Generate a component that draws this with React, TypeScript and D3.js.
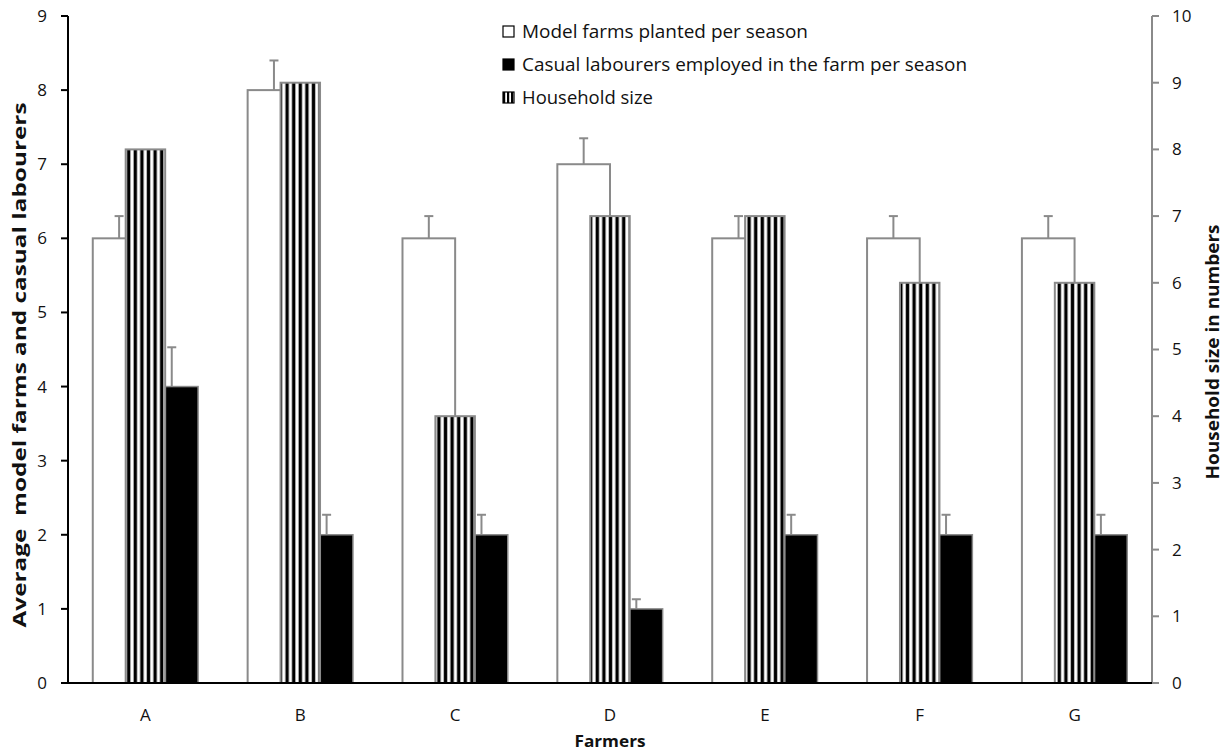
import React from "react";
import * as d3 from "d3";

const categories = ["A", "B", "C", "D", "E", "F", "G"];
const modelFarms = [6, 8, 6, 7, 6, 6, 6];
const modelFarmsErr = [0.3, 0.4, 0.3, 0.35, 0.3, 0.3, 0.3];
const casualLabourers = [4, 2, 2, 1, 2, 2, 2];
const casualLabourersErr = [0.53, 0.27, 0.27, 0.13, 0.27, 0.27, 0.27];
const householdSize = [8, 9, 4, 7, 7, 6, 6];
const leftTicks = [0, 1, 2, 3, 4, 5, 6, 7, 8, 9];
const rightTicks = [0, 1, 2, 3, 4, 5, 6, 7, 8, 9, 10];
const legendLabels = [
  "Model farms planted per season",
  "Casual labourers employed in the farm per season",
  "Household size",
];
const legendWidths = [286, 445, 131];

const W = 1226;
const H = 753;
const L = 68;
const R = 1152;
const T = 16;
const B = 683;
const FONT = "'Open Sans', 'Liberation Sans', sans-serif";
const GRAY = "#8a8a8a";

export default function App() {
  const x = d3.scaleBand<string>().domain(categories).range([L, R]).paddingInner(0).paddingOuter(0);
  const yL = d3.scaleLinear().domain([0, 9]).range([B, T]);
  const yR = d3.scaleLinear().domain([0, 10]).range([B, T]);
  const bw = x.bandwidth();
  const groupW = bw * 0.68;
  const sub = d3.scaleBand<string>().domain(["model", "casual"]).range([-groupW / 2, groupW / 2]);
  const hatchW = bw * 0.255;
  const capW = 9;

  const errBar = (cx: number, v: number, e: number, key: string) => (
    <g key={key} stroke={GRAY} strokeWidth={2}>
      <line x1={cx} x2={cx} y1={yL(v)} y2={yL(v + e)} />
      <line x1={cx - capW / 2} x2={cx + capW / 2} y1={yL(v + e)} y2={yL(v + e)} />
    </g>
  );

  return (
    <svg
      width={W}
      height={H}
      style={{ position: "absolute", left: 0, top: 0, background: "#fff" }}
      fontFamily={FONT}
    >
      <defs>
        <pattern id="vstripes" patternUnits="userSpaceOnUse" width={6.6} height={10} x={0}>
          <rect width={6.6} height={10} fill="#fff" />
          <rect x={1.6} width={3.4} height={10} fill="#000" />
        </pattern>
        <pattern id="vstripesLeg" patternUnits="userSpaceOnUse" width={4} height={10} x={503}>
          <rect width={4} height={10} fill="#fff" />
          <rect x={0} width={2.2} height={10} fill="#000" />
        </pattern>
      </defs>
      <rect width={W} height={H} fill="#fff" />

      {/* primary bars */}
      {categories.map((c, i) => {
        const cx = (x(c) as number) + bw / 2;
        const xm = cx + (sub("model") as number);
        const xc = cx + (sub("casual") as number);
        const sw = sub.bandwidth();
        return (
          <g key={c}>
            {errBar(xm + sw / 2, modelFarms[i], modelFarmsErr[i], c + "em")}
            {errBar(xc + sw / 2, casualLabourers[i], casualLabourersErr[i], c + "ec")}
            <rect x={xm} y={yL(modelFarms[i])} width={sw} height={B - yL(modelFarms[i])} fill="#fff" stroke={GRAY} strokeWidth={2} />
            <rect x={xc} y={yL(casualLabourers[i])} width={sw} height={B - yL(casualLabourers[i])} fill="#000" stroke={GRAY} strokeWidth={1.5} />
          </g>
        );
      })}

      {/* secondary bars */}
      {categories.map((c, i) => {
        const cx = (x(c) as number) + bw / 2;
        return (
          <rect
            key={c + "h"}
            x={cx - hatchW / 2}
            y={yR(householdSize[i])}
            width={hatchW}
            height={B - yR(householdSize[i])}
            fill="url(#vstripes)"
            stroke={GRAY}
            strokeWidth={2}
          />
        );
      })}

      {/* left axis */}
      <line x1={L} x2={L} y1={T} y2={B} stroke="#000" strokeWidth={2} />
      {leftTicks.map((t) => (
        <g key={"l" + t}>
          <line x1={L - 7} x2={L} y1={yL(t)} y2={yL(t)} stroke="#000" strokeWidth={2} />
          <text x={L - 26} y={yL(t)} dy="0.35em" textAnchor="middle" fontSize={17} fill="#111">
            {t}
          </text>
        </g>
      ))}

      {/* right axis */}
      <line x1={R} x2={R} y1={T} y2={B} stroke={GRAY} strokeWidth={2} />
      {rightTicks.map((t) => (
        <g key={"r" + t}>
          <line x1={R} x2={R + 7} y1={yR(t)} y2={yR(t)} stroke={GRAY} strokeWidth={2} />
          <text x={R + 20} y={yR(t)} dy="0.35em" textAnchor="start" fontSize={17} fill="#111">
            {t}
          </text>
        </g>
      ))}

      {/* bottom axis */}
      <line x1={L} x2={R} y1={B} y2={B} stroke="#000" strokeWidth={2} />
      {categories.map((c) => (
        <text key={"c" + c} x={(x(c) as number) + bw / 2} y={715} dy="0.35em" textAnchor="middle" fontSize={17} fill="#111">
          {c}
        </text>
      ))}

      {/* axis titles */}
      <text x={610} y={741} dy="0.35em" textAnchor="middle" fontSize={16} fontWeight="bold" fill="#111" textLength={71} lengthAdjust="spacingAndGlyphs">
        Farmers
      </text>
      <text
        transform={`translate(20, ${365}) rotate(-90)`}
        textAnchor="middle"
        dy="0.35em"
        fontSize={17}
        fontWeight="bold"
        fill="#111"
        textLength={525}
        lengthAdjust="spacingAndGlyphs"
        style={{ whiteSpace: "pre" }}
      >
        {"Average  model farms and casual labourers"}
      </text>
      <text
        transform={`translate(1213, ${352}) rotate(-90)`}
        textAnchor="middle"
        dy="0.35em"
        fontSize={17}
        fontWeight="bold"
        fill="#111"
        textLength={255}
        lengthAdjust="spacingAndGlyphs"
      >
        Household size in numbers
      </text>

      {/* legend */}
      {legendLabels.map((lab, i) => {
        const ly = 32 + i * 33;
        return (
          <g key={lab}>
            {i === 0 && <rect x={503} y={ly - 6} width={11} height={11} fill="#fff" stroke="#000" strokeWidth={1.2} />}
            {i === 1 && <rect x={503} y={ly - 6} width={11} height={11} fill="#000" stroke="#000" strokeWidth={1.2} />}
            {i === 2 && <rect x={503} y={ly - 6} width={11} height={11} fill="url(#vstripesLeg)" stroke="#000" strokeWidth={1.2} />}
            <text x={522} y={ly} dy="0.35em" fontSize={18} fill="#111" textLength={legendWidths[i]} lengthAdjust="spacingAndGlyphs">
              {lab}
            </text>
          </g>
        );
      })}
    </svg>
  );
}
